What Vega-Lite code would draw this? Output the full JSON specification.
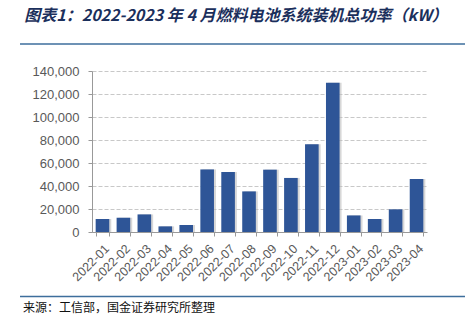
{
  "$schema": "https://vega.github.io/schema/vega-lite/v6.json",
  "width": 335,
  "height": 161,
  "autosize": {"type": "none"},
  "padding": {"left": 92, "top": 71, "right": 38, "bottom": 87},
  "background": "white",
  "title": {
    "text": "图表1：2022-2023 年 4 月燃料电池系统装机总功率（kW）",
    "anchor": "start",
    "frame": "bounds",
    "font": "Noto Sans CJK SC",
    "fontSize": 16,
    "fontStyle": "italic",
    "fontWeight": "bold",
    "color": "#1b2f5c",
    "offset": 19,
    "dx": 5
  },
  "config": {
    "view": {"stroke": null},
    "axis": {"labelFont": "Liberation Sans"}
  },
  "resolve": {"scale": {"x": "independent", "y": "independent"}},
  "layer": [
    {
      "data": {
        "values": [
          {"month": "2022-01", "power": 11300},
          {"month": "2022-02", "power": 12400},
          {"month": "2022-03", "power": 15300},
          {"month": "2022-04", "power": 4900},
          {"month": "2022-05", "power": 6100},
          {"month": "2022-06", "power": 54400},
          {"month": "2022-07", "power": 52200},
          {"month": "2022-08", "power": 35300},
          {"month": "2022-09", "power": 54200},
          {"month": "2022-10", "power": 47000},
          {"month": "2022-11", "power": 76200},
          {"month": "2022-12", "power": 129800},
          {"month": "2023-01", "power": 14400},
          {"month": "2023-02", "power": 11300},
          {"month": "2023-03", "power": 19700},
          {"month": "2023-04", "power": 46100}
        ]
      },
      "encoding": {
        "x": {
          "field": "month",
          "type": "ordinal",
          "sort": null,
          "scale": {"paddingInner": 0.35, "paddingOuter": 0.175},
          "axis": {
            "title": null,
            "labelAngle": -45,
            "labelColor": "#595959",
            "labelFontSize": 12.5,
            "tickBand": "extent",
            "tickSize": 4,
            "tickColor": "#999999",
            "domainColor": "#999999",
            "labelPadding": 6,
            "grid": false
          }
        },
        "y": {
          "field": "power",
          "type": "quantitative",
          "scale": {"domain": [0, 140000], "nice": false},
          "axis": {
            "title": null,
            "values": [0, 20000, 40000, 60000, 80000, 100000, 120000, 140000],
            "format": ",.0f",
            "labelColor": "#595959",
            "labelFontSize": 13,
            "tickSize": 4,
            "tickColor": "#999999",
            "domainColor": "#999999",
            "labelPadding": 9,
            "gridColor": "#c8c8c8",
            "gridDash": [4, 2]
          }
        }
      },
      "layer": [
        {"mark": {"type": "bar", "color": "#bdbdbd", "opacity": 0.6, "xOffset": 2}},
        {"mark": {"type": "bar", "color": "#2e5597"}}
      ]
    },
    {
      "data": {"values": [{"source": "来源：工信部，国金证券研究所整理"}]},
      "layer": [
        {
          "mark": {"type": "rule", "color": "#3d6e9c", "strokeWidth": 1.5},
          "encoding": {
            "x": {"datum": -0.2149, "type": "quantitative", "scale": {"domain": [0, 1], "nice": false}, "axis": null},
            "x2": {"datum": 1.1134},
            "y": {"datum": 163500, "type": "quantitative", "scale": {"domain": [0, 140000], "nice": false}, "axis": null}
          }
        },
        {
          "mark": {"type": "rule", "color": "#3d6e9c", "strokeWidth": 1.5},
          "encoding": {
            "x": {"datum": -0.2149, "type": "quantitative", "scale": {"domain": [0, 1], "nice": false}, "axis": null},
            "x2": {"datum": 1.1134},
            "y": {"datum": -56000, "type": "quantitative", "scale": {"domain": [0, 140000], "nice": false}, "axis": null}
          }
        },
        {
          "mark": {"type": "text", "align": "left", "baseline": "alphabetic", "font": "Noto Sans CJK SC", "fontSize": 12, "color": "#111111"},
          "encoding": {
            "text": {"field": "source"},
            "x": {"datum": -0.206, "type": "quantitative", "scale": {"domain": [0, 1], "nice": false}, "axis": null},
            "y": {"datum": -69300, "type": "quantitative", "scale": {"domain": [0, 140000], "nice": false}, "axis": null}
          }
        }
      ]
    }
  ]
}
